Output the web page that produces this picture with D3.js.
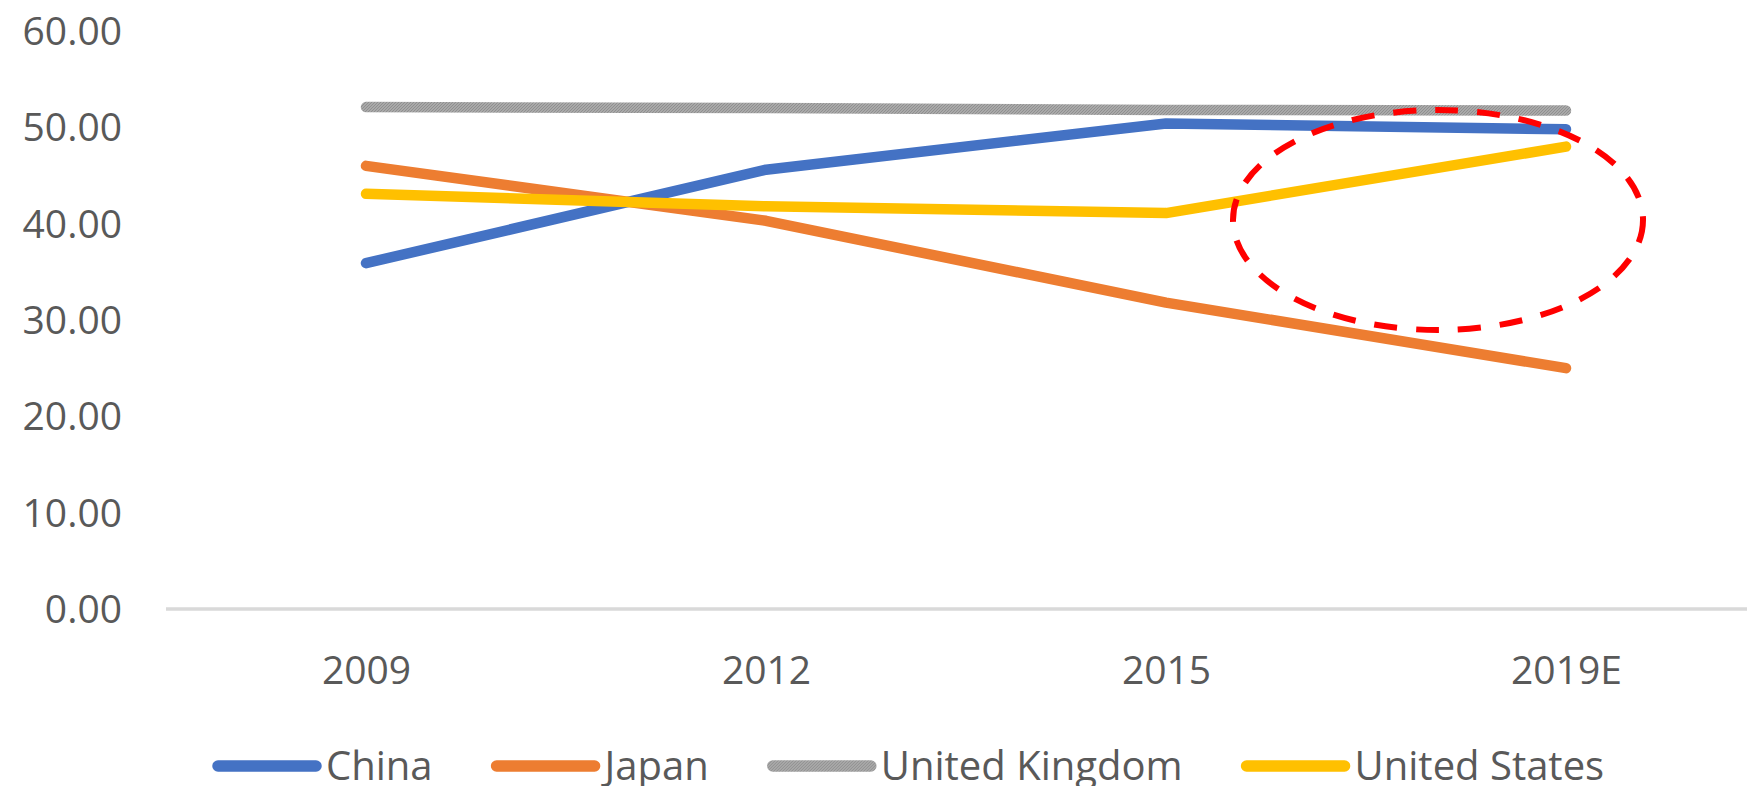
<!DOCTYPE html>
<html>
<head>
<meta charset="utf-8">
<script src="https://cdn.jsdelivr.net/npm/d3@7"></script>
<style>
  html, body { margin: 0; padding: 0; background: #ffffff; }
  svg { display: block; }
  svg text { font-family: "Open Sans", "Noto Sans", sans-serif; }
</style>
</head>
<body>
<svg id="chart" width="1747" height="786"></svg>
<script>
// Categories and series values
const years = ["2009", "2012", "2015", "2019E"];
const china = [35.9, 45.6, 50.4, 49.8];
const japan = [46.0, 40.3, 31.8, 25.0];
const unitedKingdom = [52.1, 52.0, 51.8, 51.75];
const unitedStates = [43.1, 41.8, 41.1, 48.0];
const yTicks = [0, 10, 20, 30, 40, 50, 60];

const seriesNames = ["China", "Japan", "United Kingdom", "United States"];
const seriesColors = ["#4472c4", "#ed7d31", "#a5a5a5", "#ffc000"];
const series = [china, japan, unitedKingdom, unitedStates].map((values, i) => ({
  name: seriesNames[i],
  color: seriesColors[i],
  values
}));

const svg = d3.select("#chart");
const plot = { left: 166, right: 1766, top: 31, bottom: 609 };

const x = d3.scalePoint().domain(years).range([plot.left, plot.right]).padding(0.5);
const y = d3.scaleLinear().domain([0, 60]).range([plot.bottom, plot.top]);

const textColor = "#595959";
const fontSize = 39;
const fontFamily = '"Open Sans", "Noto Sans", sans-serif';

// Hatched texture for the grey series
const defs = svg.append("defs");
const hatch = defs.append("pattern")
  .attr("id", "hatch")
  .attr("patternUnits", "userSpaceOnUse")
  .attr("width", 3).attr("height", 3);
hatch.append("rect").attr("width", 3).attr("height", 3).attr("fill", "#a9a9a9");
hatch.append("path").attr("d", "M0,3 L3,0").attr("stroke", "#8f8f8f").attr("stroke-width", 1);

// Y axis labels (no axis line)
const yAxis = d3.axisLeft(y).tickValues(yTicks).tickFormat(d3.format(".2f")).tickSize(0).tickPadding(0);
const yg = svg.append("g").attr("transform", "translate(122,0)").call(yAxis)
  .attr("font-family", null).attr("font-size", null);
yg.select(".domain").remove();
yg.selectAll("text")
  .attr("fill", textColor)
  .style("font-family", fontFamily)
  .style("font-size", fontSize + "px")
  .attr("dy", "0.35em");

// Category axis: baseline and labels
svg.append("line")
  .attr("x1", plot.left).attr("x2", plot.right)
  .attr("y1", y(0)).attr("y2", y(0))
  .attr("stroke", "#d9d9d9").attr("stroke-width", 3.5);

const xAxis = d3.axisBottom(x).tickSize(0).tickPadding(0);
const xg = svg.append("g").attr("transform", `translate(0,${y(0) + 61})`).call(xAxis)
  .attr("font-family", null).attr("font-size", null);
xg.select(".domain").remove();
xg.selectAll("text")
  .attr("fill", textColor)
  .style("font-family", fontFamily)
  .style("font-size", fontSize + "px")
  .attr("dy", "0.35em");

// Series lines
const line = d3.line()
  .x((d, i) => x(years[i]))
  .y(d => y(d));

const strokeFor = s => s.name === "United Kingdom" ? "url(#hatch)" : s.color;

svg.append("g").selectAll("path")
  .data(series)
  .join("path")
  .attr("d", d => line(d.values))
  .attr("fill", "none")
  .attr("stroke", d => strokeFor(d))
  .attr("stroke-width", 10.5)
  .attr("stroke-linecap", "round")
  .attr("stroke-linejoin", "round");

// Dashed highlight ellipse around the 2015–2019E stretch
svg.append("ellipse")
  .attr("cx", 1438).attr("cy", 220)
  .attr("rx", 205).attr("ry", 110)
  .attr("fill", "none")
  .attr("stroke", "#ff0000")
  .attr("stroke-width", 6)
  .attr("stroke-dasharray", "23 19");

// Legend
const legend = svg.append("g").attr("transform", "translate(212,766)");
let cursor = 0;
series.forEach(s => {
  const item = legend.append("g").attr("transform", `translate(${cursor},0)`);
  item.append("line")
    .attr("x1", 6).attr("x2", 104)
    .attr("y1", 0).attr("y2", 0)
    .attr("stroke", strokeFor(s))
    .attr("stroke-width", 11.5)
    .attr("stroke-linecap", "round");
  const t = item.append("text")
    .attr("x", 114).attr("y", 0)
    .attr("dy", "0.35em")
    .attr("fill", textColor)
    .style("font-family", fontFamily)
    .style("font-size", "40px")
    .text(s.name);
  cursor += 114 + t.node().getComputedTextLength() + 58;
});
</script>
</body>
</html>
